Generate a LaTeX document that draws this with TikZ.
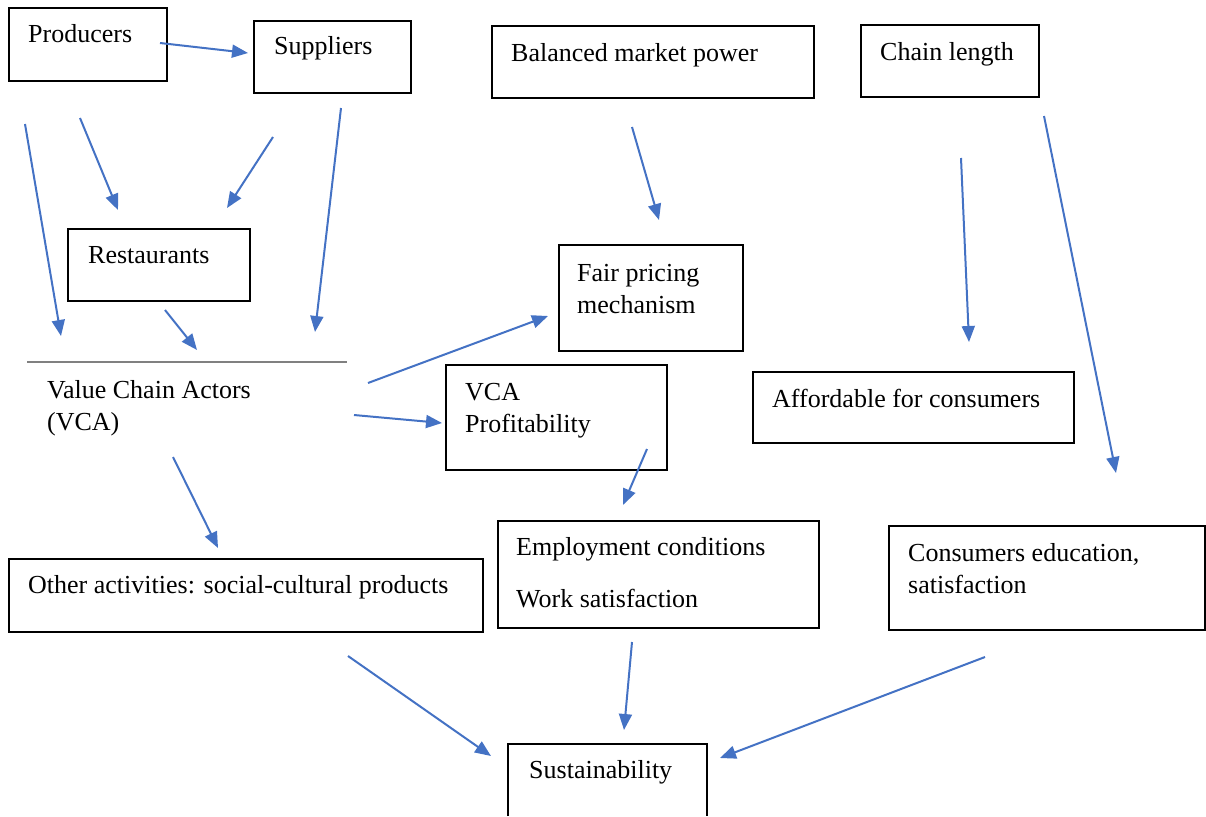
\documentclass[tikz,border=0pt]{standalone}
\usepackage{fontspec}
\setmainfont{Liberation Serif}
\usetikzlibrary{arrows.meta}
\definecolor{arrowblue}{RGB}{68,114,196}

\begin{document}
\begin{tikzpicture}[x=1pt, y=-1pt,
    box/.style={line width=2pt, black},
    txt/.style={anchor=base west, inner sep=0pt, align=left,
        font=\rmfamily\fontsize{26}{32}\selectfont},
    arr/.style={-{Triangle[length=16pt,width=13pt]}, line width=2pt, arrowblue}]
    \useasboundingbox (0,0) rectangle (1206,816);

    % Boxes
    \draw[box] (9,8) rectangle (167,81);
    \draw[box] (254,21) rectangle (411,93);
    \draw[box] (68,229) rectangle (250,301);
    \draw[box] (492,26) rectangle (814,98);
    \draw[box] (861,25) rectangle (1039,97);
    \draw[box] (559,245) rectangle (743,351);
    \draw[box] (446,365) rectangle (667,470);
    \draw[box] (753,372) rectangle (1074,443);
    \draw[box] (9,559) rectangle (483,632);
    \draw[box] (498,521) rectangle (819,628);
    \draw[box] (889,526) rectangle (1205,630);
    \draw[box] (508,816) |- (707,744) -- (707,816);
    \draw[gray, line width=1.2pt] (27,362) -- (347,362);

    % Texts (multi-line ones placed by their last baseline)
    \node[txt] (prod) at (28,43) {Producers};
    \node[txt] (supp) at (274,55) {Suppliers};
    \node[txt] (rest) at (88,263) {Restaurants};
    \node[txt] (power) at (511,62) {Balanced market power};
    \node[txt] (chain) at (880,60) {Chain length};
    \node[txt] (fair) at (577,313) {Fair pricing\\mechanism};
    \node[txt] (vca) at (47,430) {Value Chain Actors\\(VCA)};
    \node[txt] (profit) at (465,432) {VCA\\Profitability};
    \node[txt] (afford) at (772,407) {Affordable for consumers};
    \node[txt] (other) at (28,593) {Other activities: social-cultural products};
    \node[txt] (employ) at (516,607) {Employment conditions\\[20pt]Work satisfaction};
    \node[txt] (consumer) at (908,593) {Consumers education,\\satisfaction};
    \node[txt] (sustain) at (529,778) {Sustainability};

    % Arrow ends
    \coordinate (prodA) at (160,43);   \coordinate (suppA) at (248,53);
    \coordinate (prodB) at (25,124);   \coordinate (vcaB) at (61,336);
    \coordinate (prodC) at (80,118);   \coordinate (restC) at (118,210);
    \coordinate (suppD) at (273,137);  \coordinate (restD) at (227,208);
    \coordinate (suppE) at (341,108);  \coordinate (vcaE) at (315,332);
    \coordinate (restF) at (165,310);  \coordinate (vcaF) at (197,350);
    \coordinate (vcaG) at (368,383);   \coordinate (fairG) at (548,316);
    \coordinate (vcaH) at (354,415);   \coordinate (profitH) at (442,423);
    \coordinate (vcaI) at (173,457);   \coordinate (otherI) at (218,548);
    \coordinate (powerJ) at (632,127); \coordinate (fairJ) at (659,220);
    \coordinate (chainK) at (961,158); \coordinate (affordK) at (969,342);
    \coordinate (chainL) at (1044,116);\coordinate (consumerL) at (1116,473);
    \coordinate (profitM) at (647,449);\coordinate (employM) at (623,505);
    \coordinate (employN) at (632,642);\coordinate (sustainN) at (624,730);
    \coordinate (consumerO) at (985,657); \coordinate (sustainO) at (720,758);
    \coordinate (otherP) at (348,656); \coordinate (sustainP) at (491,756);

    % Arrows
    \draw[arr] (prodA) -- (suppA);
    \draw[arr] (prodB) -- (vcaB);
    \draw[arr] (prodC) -- (restC);
    \draw[arr] (suppD) -- (restD);
    \draw[arr] (suppE) -- (vcaE);
    \draw[arr] (restF) -- (vcaF);
    \draw[arr] (vcaG) -- (fairG);
    \draw[arr] (vcaH) -- (profitH);
    \draw[arr] (vcaI) -- (otherI);
    \draw[arr] (powerJ) -- (fairJ);
    \draw[arr] (chainK) -- (affordK);
    \draw[arr] (chainL) -- (consumerL);
    \draw[arr] (profitM) -- (employM);
    \draw[arr] (employN) -- (sustainN);
    \draw[arr] (consumerO) -- (sustainO);
    \draw[arr] (otherP) -- (sustainP);
\end{tikzpicture}
\end{document}
